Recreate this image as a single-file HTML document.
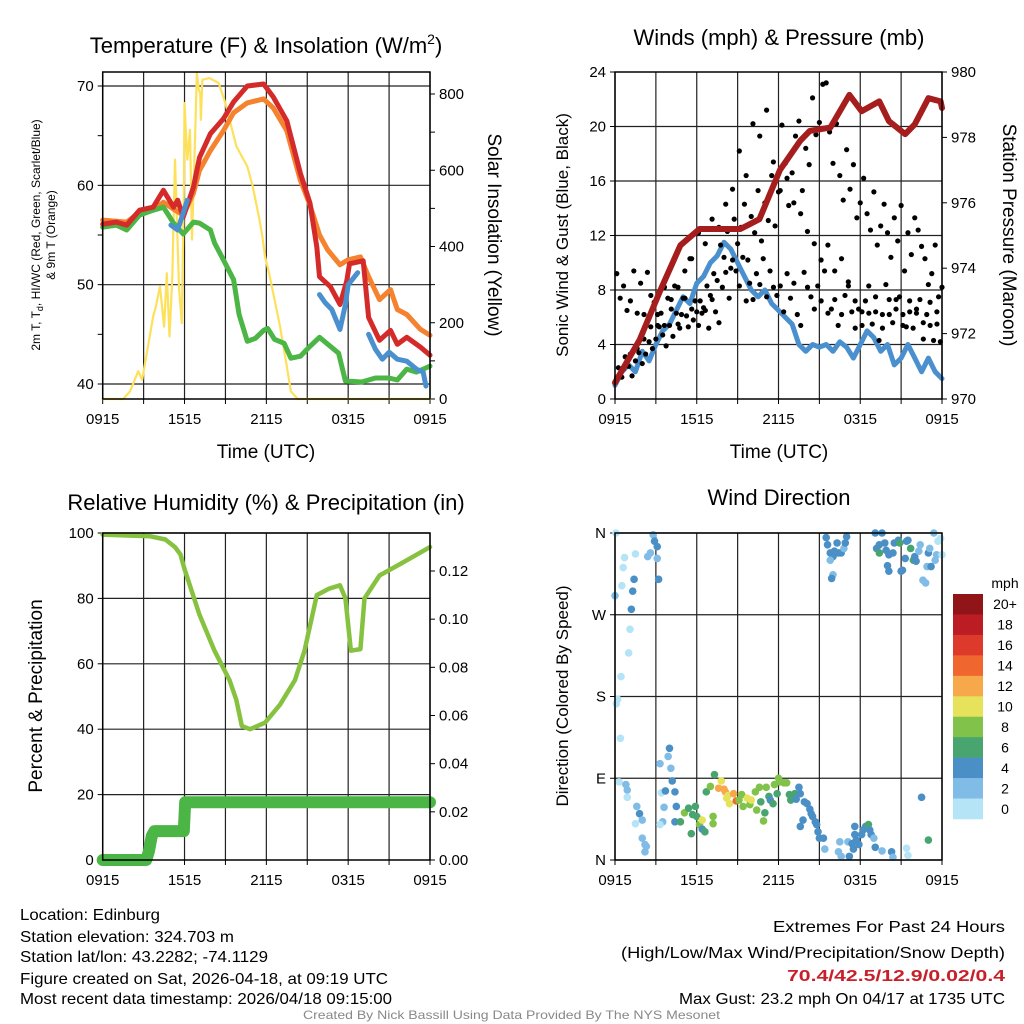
<!DOCTYPE html>
<html><head><meta charset="utf-8"><style>
html,body{margin:0;padding:0;background:#fff}
svg{display:block;font-family:"Liberation Sans",sans-serif}
</style></head><body>
<svg id="fig" width="1024" height="1024" viewBox="0 0 1024 1024" xmlns="http://www.w3.org/2000/svg">
<rect width="1024" height="1024" fill="#fff"/>
<g id="p1"></g>
<g id="p2"></g>
<g id="p3"></g>
<g id="p4"></g>
<text x="266" y="53" font-size="22" text-anchor="middle">Temperature (F) &amp; Insolation (W/m<tspan font-size="14" dy="-9">2</tspan><tspan dy="9">)</tspan></text>
<text x="779" y="45" font-size="22" text-anchor="middle">Winds (mph) &amp; Pressure (mb)</text>
<text x="266" y="510" font-size="22" text-anchor="middle">Relative Humidity (%) &amp; Precipitation (in)</text>
<text x="779" y="505" font-size="22" text-anchor="middle">Wind Direction</text>
<text x="266" y="458" font-size="19" text-anchor="middle">Time (UTC)</text>
<text x="779" y="458" font-size="19" text-anchor="middle">Time (UTC)</text>
<text transform="translate(40,235) rotate(-90)" font-size="12" text-anchor="middle">2m T, T<tspan font-size="9" dy="3">d</tspan><tspan dy="-3">, HI/WC (Red, Green, Scarlet/Blue)</tspan></text>
<text transform="translate(55,235) rotate(-90)" font-size="12" text-anchor="middle">&amp; 9m T (Orange)</text>
<text transform="translate(488,235) rotate(90)" font-size="19" text-anchor="middle">Solar Insolation (Yellow)</text>
<text transform="translate(568,235) rotate(-90)" font-size="17" text-anchor="middle">Sonic Wind &amp; Gust (Blue, Black)</text>
<text transform="translate(1003,235) rotate(90)" font-size="19" text-anchor="middle">Station Pressure (Maroon)</text>
<text transform="translate(42,696) rotate(-90)" font-size="19" text-anchor="middle">Percent &amp; Precipitation</text>
<text transform="translate(568,696) rotate(-90)" font-size="17" text-anchor="middle">Direction (Colored By Speed)</text>
<g font-size="16">
<text x="20" y="920" textLength="140" lengthAdjust="spacingAndGlyphs">Location: Edinburg</text>
<text x="20" y="942" textLength="214" lengthAdjust="spacingAndGlyphs">Station elevation: 324.703 m</text>
<text x="20" y="962" textLength="248" lengthAdjust="spacingAndGlyphs">Station lat/lon: 43.2282; -74.1129</text>
<text x="20" y="984" textLength="368" lengthAdjust="spacingAndGlyphs">Figure created on Sat, 2026-04-18, at 09:19 UTC</text>
<text x="20" y="1004" textLength="372" lengthAdjust="spacingAndGlyphs">Most recent data timestamp: 2026/04/18 09:15:00</text>
</g>
<g font-size="16">
<text x="773" y="932" textLength="232" lengthAdjust="spacingAndGlyphs">Extremes For Past 24 Hours</text>
<text x="621" y="958" textLength="384" lengthAdjust="spacingAndGlyphs">(High/Low/Max Wind/Precipitation/Snow Depth)</text>
<text x="787" y="981" fill="#c8202a" font-weight="bold" textLength="218" lengthAdjust="spacingAndGlyphs">70.4/42.5/12.9/0.02/0.4</text>
<text x="679" y="1004" textLength="326" lengthAdjust="spacingAndGlyphs">Max Gust: 23.2 mph On 04/17 at 1735 UTC</text>
</g>
<text x="303" y="1019" font-size="12" fill="#888" textLength="417" lengthAdjust="spacingAndGlyphs">Created By Nick Bassill Using Data Provided By The NYS Mesonet</text>
</svg>
<script>
// ---- Temperature panel data ----
const tTime = [0,1,1.76,2.7,3.7,4.45,5.2,5.5,5.9,6.65,7.1,7.9,8.85,9.6,10.6,11.8,12.5,13.5,14.5,15.2,15.7,15.9,16.7,17.4,17.9,18.1,19.1,19.5,20.3,21.1,21.6,22.3,23.3,24];
const tRed = [56.1,56.3,56,57.5,57.8,59.5,57.8,58.5,56.8,59.8,62.8,65.2,66.7,68.4,70,70.2,68.9,66.5,61.2,58.2,53.8,50.8,49.8,48,50.4,52.1,52.4,46.7,44.4,45.4,44,44.7,43.7,42.9];
const oTime = [0,1.76,2.7,3.7,4.45,5.2,5.9,6.65,7.1,7.9,8.85,9.6,10.6,11.8,12.5,13.5,14.5,15.2,15.9,16.5,17.4,18,18.9,19.5,20.3,21.1,21.6,22.3,23.3,24];
const tOrange = [56.5,56.3,57.3,57.5,58.3,57.6,57,59.2,61.5,63.5,65.5,67.3,68.3,68.7,67.8,65.5,60.5,58,55,53.5,52,52.5,52.8,50.8,48.5,49.5,47.5,47,45.5,44.9];
const gTime = [0,1,1.76,2.7,3.7,4.45,5.2,5.9,6.65,7.1,7.9,8.2,8.85,9.6,10,10.6,11.2,11.8,12.1,12.6,13.3,13.8,14.5,15.2,15.9,16.6,17.3,17.8,19,20,21,21.6,22.3,23,24];
const tDew = [55.8,56,55.5,57,57.5,57.8,56.2,55.1,56.3,56.2,55.5,54.2,52.5,50.5,47,44.3,44.6,45.4,45.6,44.5,44.1,42.6,42.8,43.8,44.7,43.9,43.1,40.3,40.2,40.6,40.6,40.4,41.5,41.2,41.8];
const bTime = [5,5.5,6.2,null,15.9,16.3,16.8,17.4,17.8,18,18.7,null,19.5,20,20.5,21,21.6,22.3,23,23.5,23.7];
const tHiWc = [56,55.5,58.5,null,49,48.2,47.5,45.5,48,50,51.2,null,45,43.5,42.5,43.2,42.5,42.3,41.5,41.2,39.8];
const sTime = [0,1.5,2,2.6,2.9,3.7,3.9,4.2,4.5,4.7,4.9,5.1,5.3,5.6,5.8,5.95,6,6.2,6.4,6.55,6.8,6.9,7.05,7.15,7.2,7.3,7.8,8.5,9,9.8,10.6,11,11.5,11.7,11.9,12.2,13,13.5,13.8,14.3,24];
const solar = [0,0,20,73,51,217,243,295,190,330,164,322,628,287,199,540,776,628,706,418,715,855,811,802,732,837,842,829,776,663,610,558,470,427,374,330,191,86,20,0,0];
// ---- Winds panel data ----
const windSpeed = [1,2,2.5,2,3.5,2.8,4,5,5.5,6.5,7.5,7,8.5,9,10,10.5,11.5,11,10,9,8,7.5,8,7,6.5,6,5.5,4,3.5,4,3.8,4,3.5,4.2,3.8,3,4,5,4.5,3.5,4,2.5,3,4,3,2,3,2,1.5];
const gustA = [1.2,2.3,1.6,3.1,2.4,1.7,2.8,3.4,2.6,3.3,4.2,3.7,4.4,5.3,4.7,3.9,5.4,4.6,6.3,5.2,7.4,6.1,10.3,5.8,6.4,7.2,6.7,8.3,7.6,9.2,8.7,11.3,10.4,12.3,9.6,13.2,11.4,12.6,14.3,10.2,13.4,12.2,15.3,11.6,14.4,13.1,16.4,12.7,15.2,20.1,17.3,14.2,16.6,19.3,20.4,15.3,18.4,17.2,22.1,19.4,20.3,23.1,23.2,19.6,17.3,20.2,16.4,14.6,18.3,15.4,17.2,13.3,14.4,16.2,13.6,12.4,15.2,11.3,12.7,14.3,12.2,10.4,13.3,11.6,14.2,9.4,12.2,10.6,13.3,12.4,11.2,10.3,8.4,9.2,11.3,7.5,8.2];
const gustB = [1.6,2.2,3.3,3.7,4.4,5.3,6.2,5.4,7.3,8.2,9.4,10.3,12.2,11.4,13.2,12.6,14.3,15.4,18.2,16.4,20.2,19.3,21.2,17.4,15.3,16.2,14.4,13.6,12.3,11.4,10.2,11.3,9.4,10.3,8.6,7.2,6.4,8.3,7.5,6.2,7.3,6.6,5.4,7.2,6.3,5.6,7.1,6.4];
const gustC = [9.2,7.4,8.3,6.5,7.2,9.4,6.3,8.5,6.2,9.3,7.6,7.1,5.4,6.3,8.2,7.4,6.6,8.3,5.5,6.2,7.4,5.3,6.6,7.2,5.4,6.3,6.5,5.2,7.3,6.4,5.6,8.2,9.3,7.4,10.2,9.4,8.3,10.4,7.2,8.5,7.3,9.2,8.4,10.3,7.5,9.4,8.2,7.6,8.3,6.4,9.2,7.4,8.5,6.2,5.4,9.3,8.2,7.5,6.6,8.3,7.2,9.4,6.3,6.6,7.3,5.4,6.2,7.6,8.3,6.4,5.2,6.6,5.4,7.2,6.3,5.5,6.4,4.3,5.2,8.4,6.2,5.6,7.3,7.5,6.2,5.3,6.4,5.2,6.6,7.3,4.4,6.2,5.4,4.3,5.5,4.2];
const presTime = [0,1.8,3.3,4.8,6.2,9.2,10.6,12.1,13.6,14.3,15.8,17.2,18.1,19.4,20.1,21.3,22,23,23.9,24];
const pressure = [970.5,971.8,973.3,974.7,975.2,975.2,975.5,977,977.9,978.2,978.3,979.3,978.8,979.1,978.5,978.1,978.4,979.2,979.1,978.9];
// ---- Humidity panel data ----
const rhTime = [0,3.5,4.6,5.3,5.7,6,7.1,8.2,9.3,9.8,10.2,10.8,11.9,13,14.1,14.8,15.7,16.6,17.4,17.8,18.2,18.9,19.2,20.3,21.8,24];
const rh = [99.5,99,98,95.7,93.5,89,75,64,55,49,41,40,42,47.5,55,64,81,83,84,80,64,64.5,80,87,90.5,95.7];
const pcpTime = [0,3.2,3.4,3.6,3.8,5.95,6.05,24];
const precip = [0,0,0.004,0.01,0.012,0.012,0.024,0.024];
// ---- Wind direction data ----
const dirTime = [0.07,0,0.6,0.7,1.5,0.5,1.4,1.3,1.2,1.1,1,0.44,0.2,0.1,0.4,0.3,0.8,0.9,0.9,1.6,1.8,2,1.5,2,2.2,2.3,2.2,2.8,2.9,3.1,2.6,2.4,3.1,3.2,3.3,3.4,3.6,3.5,3.3,3.7,3.9,4,4.1,4.2,4.4,4.5,4.4,4.8,5.1,5.4,5.6,5.9,5.7,6,6.2,6.4,6.6,6.4,6.7,7,7.2,7.2,7.3,7.6,7.8,8,8.1,8.2,8.4,8.3,8.7,8.9,9.1,9.3,9.4,9.7,9.9,10,10.3,10.4,10.6,10.7,10.9,11,11.1,11.3,11.4,11.6,11.7,11.9,12,12.1,12.4,12.6,12.8,12.9,13,13.2,13.3,13.5,13.6,13.9,14.1,14.3,14.4,14.5,13.8,13.6,14.7,14.8,14.9,15,15.3,15.4,16.5,16.4,16.6,17.1,17.2,17.4,17.5,17.6,17.7,17.9,18.1,17.6,18.2,18.4,18.6,18.7,18.8,19,19.1,19.6,20.3,20.4,21.4,21.5,22.5,23,15.5,15.6,16.3,15.8,16,16.1,16.4,16.6,16.8,16.9,17,15.8,16,15.9,19.1,19.6,19.2,19.4,19.4,19.8,19.9,20.1,20,20.1,20.4,20.5,20.8,20.9,21,21.1,21.3,21.4,21.5,21.7,21.9,22,22.1,22.3,22.4,22.6,22.8,22.9,23,23.1,23.2,23.4,23.5,23.6,23.7,23.9,24];
const dirDeg = [360,291,322,333,337,302,309,296,276,254,228,202,177,172,134,86,83,77,69,59,51,44,40,24,17,15,9,358,351,345,338,334,332,309,106,74,58,42,39,76,114,123,101,87,75,59,42,42,52,57,29,59,50,48,39,34,31,44,75,81,48,40,94,79,87,78,75,68,62,71,73,65,66,72,59,68,61,66,75,55,80,64,43,52,80,70,66,62,83,73,90,86,85,85,72,66,69,73,67,80,73,64,62,56,51,48,44,37,42,39,31,24,24,12,20,9,4,20,4,18,12,28,22,17,28,37,33,37,39,33,28,24,14,10,9,3,13,5,69,22,355,347,349,338,334,340,338,338,343,349,356,330,314,310,360,360,343,347,338,349,341,336,324,318,338,349,352,349,318,319,332,351,352,343,330,334,329,340,347,308,305,323,338,343,323,360,330,336,351,354,336];
const dirSpeed = [1,3,1,1,1,1,5,5,5,1,1,1,1,1,1,1,3,3,1,3,5,3,1,3,3,3,3,3,5,5,3,3,3,5,3,1,3,3,1,5,3,5,3,5,5,5,5,7,9,7,7,7,7,7,9,5,7,11,7,9,9,9,7,13,11,13,13,11,11,11,13,15,9,9,9,11,9,11,9,9,9,7,9,7,9,7,5,7,9,7,9,9,9,9,7,7,7,7,5,5,5,5,5,5,5,5,5,5,5,5,5,5,5,3,3,3,3,3,5,5,5,5,5,5,5,5,5,5,7,5,5,3,5,3,5,3,1,1,5,7,5,5,5,5,5,5,5,5,3,5,5,3,3,5,5,5,5,5,7,5,5,5,5,5,5,5,5,7,5,5,5,5,5,7,7,5,5,3,3,3,3,3,5,3,5,3,3,3];
const cbLabels = ["20+","18","16","14","12","10","8","6","4","2","0"];
const cbColors = ["#911518","#bc1c24","#dd3a2b","#ef672e","#f6a84b","#e6e25c","#80c24a","#48a56f","#4a8fc6","#80bce6","#b5e4f7"];
const timeLabels = ["0915","1515","2115","0315","0915"];

const NS = "http://www.w3.org/2000/svg";
function mk(parent, tag, attrs, txt){
  const e = document.createElementNS(NS, tag);
  for (const k in attrs) e.setAttribute(k, attrs[k]);
  if (txt !== undefined) e.textContent = txt;
  parent.appendChild(e);
  return e;
}
function lin(d0,d1,r0,r1){ return v => r0 + (v-d0)*(r1-r0)/(d1-d0); }
function pathD(xs, ys, fx, fy){
  let d = "", pen = false;
  for (let i=0;i<xs.length;i++){
    if (xs[i]===null || ys[i]===null){ pen=false; continue; }
    d += (pen?"L":"M") + fx(xs[i]).toFixed(1) + "," + fy(ys[i]).toFixed(1);
    pen = true;
  }
  return d;
}
function frame(g, L, R, T, B, prefix){
  const fx = lin(0,24,L,R);
  for (let k=0;k<=8;k++){
    const x = fx(k*3);
    const gl = mk(g,"line",{x1:x,x2:x,y1:T,y2:B,stroke:"#222","stroke-width":1.2});
    
    
    const tk = mk(g,"line",{x1:x,x2:x,y1:B,y2:B+5,stroke:"#000","stroke-width":1});
    
    
  }
  timeLabels.forEach((lab,i)=>{
    const t = mk(g,"text",{x:fx(i*6),y:B+25,"font-size":15,"text-anchor":"middle"},lab);
    
    
  });
  return fx;
}
function border(g,L,R,T,B,prefix){
  const b = mk(g,"rect",{x:L,y:T,width:R-L,height:B-T,fill:"none",stroke:"#000","stroke-width":1.5});
  
  
}
function hgrid(g,L,R,y,prefix){
  const l = mk(g,"line",{x1:L,x2:R,y1:y,y2:y,stroke:"#222","stroke-width":1.2});
  
  
}
function ytick(g,x,y,lab,anchor,prefix,dir){
  const tk = mk(g,"line",{x1:x,x2:x+dir*5,y1:y,y2:y,stroke:"#000","stroke-width":1});
  
  
  if (lab!==null){
    const t = mk(g,"text",{x:x+dir*9,y:y+5,"font-size":15,"text-anchor":anchor},lab);
    
    
  }
}
function line(g, xs, ys, fx, fy, color, w, name){
  const p = mk(g,"path",{d:pathD(xs,ys,fx,fy),fill:"none",stroke:color,"stroke-width":w,"stroke-linejoin":"round","stroke-linecap":"round"});
  
  
}

// Panel 1
(function(){
  const g = document.getElementById("p1");
  const L=102.7,R=430,T=72,B=399;
  const fx = frame(g,L,R,T,B,"p1");
  const fy = lin(40,70,384,86);
  const fs = lin(0,800,399,94);
  [40,50,60,70].forEach(v=>{ hgrid(g,L,R,fy(v),"p1"); ytick(g,L,fy(v),String(v),"end","p1",-1); });
  [45,55,65].forEach(v=>ytick(g,L,fy(v),null,"end","p1",-1));
  [0,200,400,600,800].forEach(v=>ytick(g,R,fs(v),String(v),"start","p1-right",1));
  [100,300,500,700].forEach(v=>ytick(g,R,fs(v),null,"start","p1-right",1));
  line(g,sTime,solar,fx,fs,"#fde15a",2.2,"solar-insolation-line");
  line(g,oTime,tOrange,fx,fy,"#f5822e",5,"temp-9m-line");
  line(g,gTime,tDew,fx,fy,"#4bb545",5,"dewpoint-line");
  line(g,tTime,tRed,fx,fy,"#d42a2a",5,"temp-2m-line");
  line(g,bTime,tHiWc,fx,fy,"#4a90cf",5,"heat-index-windchill-line");
  border(g,L,R,T,B,"p1");
})();

// Panel 2
(function(){
  const g = document.getElementById("p2");
  const L=615,R=942,T=72,B=399;
  const fx = frame(g,L,R,T,B,"p2");
  const fy = lin(0,24,B,T);
  const fp = lin(970,980,B,T);
  [4,8,12,16,20].forEach(v=>hgrid(g,L,R,fy(v),"p2"));
  [0,4,8,12,16,20,24].forEach(v=>ytick(g,L,fy(v),String(v),"end","p2",-1));
  [970,972,974,976,978,980].forEach(v=>ytick(g,R,fp(v),String(v),"start","p2-right",1));
  const wt = windSpeed.map((v,i)=>i*0.5);
  line(g,wt,windSpeed,fx,fy,"#4a90cf",5,"sonic-wind-line");
  const dots = [[gustA,0.25,0],[gustB,0.5,0.125],[gustC,0.25,0.13]];
  dots.forEach(([arr,step,off])=>{
    arr.forEach((v,i)=>{
      const h = off + i*step;
      if (h>24) return;
      const c = mk(g,"circle",{cx:fx(h),cy:fy(v),r:2.6,fill:"#000"});
      
      
    });
  });
  line(g,presTime,pressure,fx,fp,"#a51d1d",6,"pressure-line");
  border(g,L,R,T,B,"p2");
})();

// Panel 3
(function(){
  const g = document.getElementById("p3");
  const L=102.7,R=430,T=533,B=860;
  const fx = frame(g,L,R,T,B,"p3");
  const fy = lin(0,100,B,T);
  const fp = lin(0,0.12,B,571);
  [20,40,60,80,100].forEach(v=>hgrid(g,L,R,fy(v),"p3"));
  [0,20,40,60,80,100].forEach(v=>ytick(g,L,fy(v),String(v),"end","p3",-1));
  [0,0.02,0.04,0.06,0.08,0.10,0.12].forEach(v=>ytick(g,R,fp(v),v.toFixed(2),"start","p3-right",1));
  line(g,rhTime,rh,fx,fy,"#86c240",4.5,"relative-humidity-line");
  line(g,pcpTime,precip,fx,fp,"#4bb545",12,"precipitation-line");
  border(g,L,R,T,B,"p3");
})();

// Panel 4
(function(){
  const g = document.getElementById("p4");
  const L=615,R=942,T=533,B=860;
  const fx = frame(g,L,R,T,B,"p4");
  const fy = lin(0,360,B,T);
  const labs = ["N","E","S","W","N"];
  [0,90,180,270,360].forEach((v,i)=>{ hgrid(g,L,R,fy(v),"p4"); ytick(g,L,fy(v),labs[i],"end","p4",-1); });
  function colorFor(s){ let idx = Math.min(10, Math.floor(s/2)); return cbColors[10-idx]; }
  dirTime.forEach((h,i)=>{
    if (dirDeg[i]===undefined) return;
    const c = mk(g,"circle",{cx:fx(h),cy:fy(dirDeg[i]),r:3.8,fill:colorFor(dirSpeed[i]||1)});
    
    
  });
  border(g,L,R,T,B,"p4");
  const cb = mk(g,"g",{});
  
  
  const t = mk(cb,"text",{x:1005,y:588,"font-size":14,"text-anchor":"middle"},"mph");
  
  
  const h = 225/cbLabels.length;
  cbLabels.forEach((lab,i)=>{
    const r = mk(cb,"rect",{x:953,y:594+i*h,width:30,height:h+0.3,fill:cbColors[i]});
    
    
    const tl = mk(cb,"text",{x:1005,y:594+i*h+h/2+5,"font-size":14,"text-anchor":"middle"},lab);
    
    
  });
})();
</script>
</body></html>
